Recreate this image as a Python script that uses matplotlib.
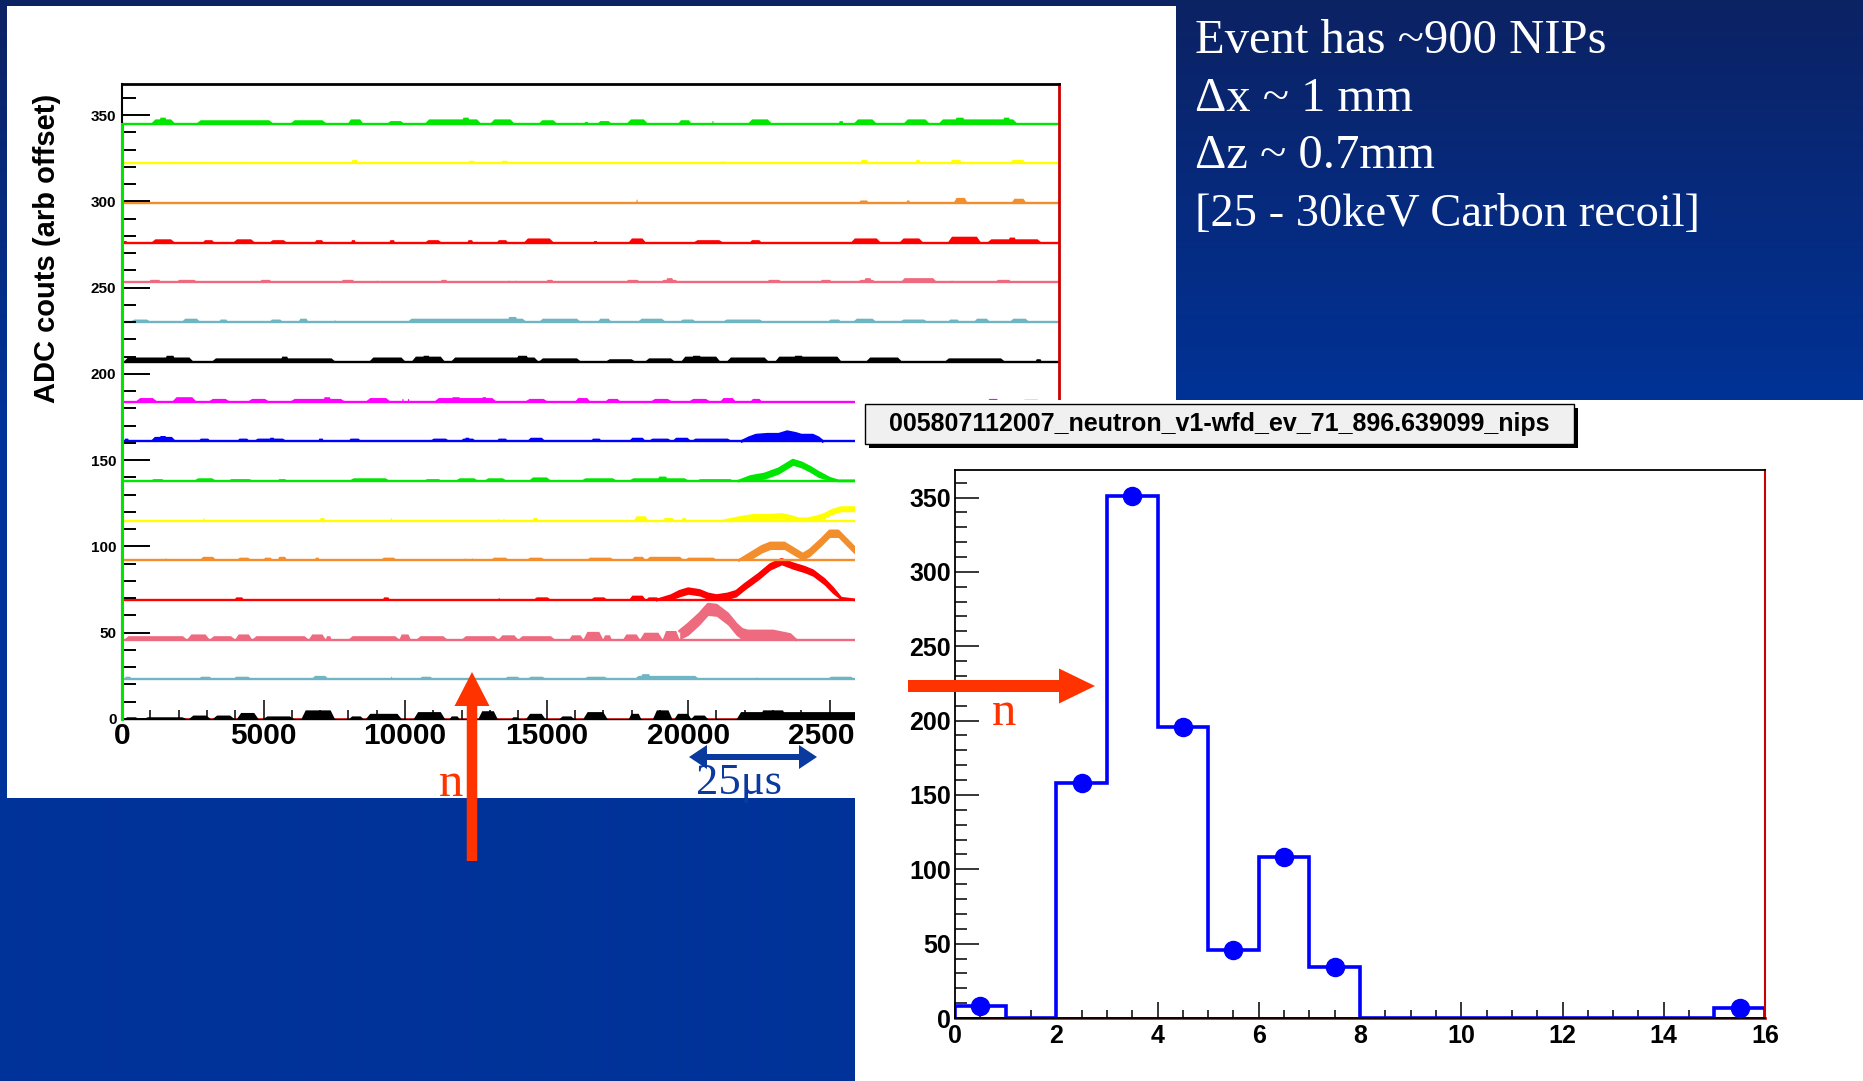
import numpy as np
import matplotlib
matplotlib.use("Agg")
import matplotlib.pyplot as plt
from matplotlib.patches import Rectangle, FancyArrow
from matplotlib.ticker import MultipleLocator

W, H = 1863, 1081
DPI = 100

# ---------------- waveform display: 16 ADC channels with arbitrary offsets ----------------
XMAX = 33100
sample_ticks = [0, 5000, 10000, 15000, 20000, 25000, 30000]
sample_tick_labels = ["0", "5000", "10000", "15000", "20000", "25000", ""]
trace_offsets = [0, 23, 46, 69, 92, 115, 138, 161, 184, 207, 230, 253, 276, 299, 322, 345]
trace_colors = ["#000000", "#6fb6c2", "#ee6a7f", "#ff0000", "#f28e2b", "#ffff00", "#00e600", "#0000ff",
                "#ff00ff", "#000000", "#6fb6c2", "#ee6a7f", "#ff0000", "#f28e2b", "#ffff00", "#00e600"]

# noise bumps per channel: (start sample, end sample, height in ADC counts)
bumps_000 = [(80, 590, 1), (760, 2280, 1), (2370, 3130, 2), (3210, 3970, 2), (4060, 4820, 3.5),
             (4990, 6080, 1.5), (6340, 7520, 5), (8030, 8530, 1.5), (8620, 9880, 3), (10310, 11410, 4),
             (11580, 11920, 1.5), (12590, 13270, 4.5), (13770, 14030, 1), (14280, 14960, 3),
             (15460, 15970, 1.5), (16300, 17150, 4), (17910, 18340, 3), (18760, 19440, 5),
             (19520, 20110, 3), (20110, 20700, 2), (21720, 26100, 4), (22500, 23500, 5)]
bumps_023 = [(80, 340, 1.5), (2700, 3200, 1.5), (3900, 4600, 1.5), (6700, 7300, 2), (9500, 9550, 1.5),
             (10500, 11000, 1.5), (13500, 14100, 1.5), (14300, 15000, 1.5), (16300, 17200, 1.5),
             (18100, 20400, 2), (18300, 18700, 3), (22400, 22450, 1), (24900, 25900, 1.5)]
bumps_046 = [(80, 2300, 2), (2300, 3100, 3), (3100, 4000, 2), (4000, 4600, 3), (4600, 6600, 2),
             (6600, 7200, 3), (7200, 7400, 2), (8000, 9800, 2), (9800, 10200, 3), (10400, 11500, 2),
             (12000, 13300, 2), (13300, 14000, 2.5), (14000, 15300, 2), (15800, 16300, 2.5),
             (16300, 17000, 4.5), (17000, 17300, 2.5), (17700, 18300, 3), (18300, 19100, 4),
             (19100, 19700, 5)]
bumps_069 = [(3970, 4310, 1.5), (9210, 9460, 1.5), (13300, 13350, 1), (14530, 15160, 1.5),
             (16560, 17150, 1.5), (17910, 18510, 2.5), (18510, 19000, 1.5)]
bumps_092 = [(1520, 1570, 1), (2750, 3330, 2), (4060, 4560, 1.5), (4990, 5320, 1.5), (5490, 5830, 2),
             (6810, 6980, 1.5), (9130, 9720, 1.5), (12100, 12150, 1), (12350, 12400, 1),
             (13010, 13690, 1.5), (14280, 14960, 1.5), (16390, 17410, 1.5), (18000, 18500, 2),
             (18500, 19860, 2), (19860, 21040, 1.5)]
bumps_115 = [(2870, 2920, 1.5), (6980, 7180, 1.5), (9490, 9540, 1.5), (13270, 13320, 1),
             (13470, 13520, 1), (14500, 14700, 1.5), (18080, 18590, 2.5), (19100, 19520, 1.5),
             (19770, 19940, 1.5)]
bumps_138 = [(1010, 1520, 1), (2540, 3330, 1.5), (3720, 4650, 1), (5490, 5830, 1), (8030, 9460, 1.5),
             (10650, 11320, 1), (11780, 12590, 1.5), (12790, 13600, 1.5), (14370, 15160, 2),
             (16220, 17490, 1.5), (17910, 20030, 1.5), (18900, 19300, 2.5), (20280, 21630, 1)]
bumps_161 = [(80, 250, 1.5), (1010, 1910, 2.5), (1300, 1600, 3), (2700, 3130, 1.5), (4060, 4510, 1.5),
             (4650, 5830, 1.5), (5200, 5400, 2), (6930, 7130, 1.5), (7990, 8450, 1.5),
             (10870, 11580, 1.5), (11950, 12510, 1.5), (12100, 12300, 2), (13230, 13640, 1.5),
             (14310, 14960, 2), (16560, 16950, 1.5), (17910, 18510, 2), (18590, 19440, 1.5),
             (19440, 20110, 2), (20110, 21550, 1.5)]
bumps_184 = [(490, 1240, 2), (1780, 2630, 2.5), (3060, 3810, 1.5), (4450, 5200, 1.5), (5950, 7880, 1.5),
             (7100, 7400, 2.5), (8620, 9480, 2), (9900, 9950, 1.5), (10100, 10150, 1.5),
             (11040, 13230, 2), (11600, 12000, 2.5), (12700, 12900, 2.5), (14250, 15040, 1.5),
             (16010, 16540, 2), (17080, 17610, 1.5), (18680, 19430, 1.5), (20030, 20780, 1.5),
             (21140, 21680, 2), (22210, 22600, 1.5), (30560, 30990, 1.5), (31740, 32490, 1)]
bumps_207 = [(60, 2530, 2.5), (1500, 1900, 3.5), (3170, 7550, 2), (5600, 5900, 3), (8730, 10020, 2.5),
             (10230, 11410, 3), (10600, 10900, 3.5), (11620, 14720, 2.5), (13900, 14400, 3.5),
             (14720, 16220, 2), (17080, 18150, 1.5), (18470, 19540, 2), (19750, 21140, 3),
             (20100, 20500, 3.5), (21360, 22850, 2.5), (23070, 25420, 3), (23700, 24100, 3.5),
             (26280, 27560, 2.5), (29060, 31200, 2), (32270, 32490, 1.5)]
bumps_230 = [(280, 1030, 1.5), (2100, 2780, 2), (3420, 3750, 1.5), (5200, 5690, 1.5), (6230, 6590, 2),
             (7500, 7550, 1), (10080, 14300, 2), (13600, 14000, 3), (14720, 16220, 2), (16800, 17290, 2),
             (18210, 19220, 2), (19690, 20290, 1.5), (21210, 22680, 1.5), (24930, 25420, 1.5),
             (25810, 26660, 2), (27460, 28480, 1.5), (29170, 29600, 1.5), (30090, 30670, 2),
             (31350, 32060, 2)]
bumps_253 = [(920, 1410, 1.5), (1880, 2700, 1.5), (4840, 5310, 1.5), (7700, 8260, 1.5), (9000, 9050, 1),
             (11240, 11510, 1.5), (13650, 13700, 1), (13900, 13950, 1), (14980, 15260, 1.5),
             (17780, 18320, 1.5), (19000, 19690, 1.5), (19200, 19500, 2.5), (22750, 23330, 1.5),
             (24630, 25100, 1.5), (25960, 26660, 1.5), (26200, 26500, 2.5), (27500, 28800, 2.5),
             (29300, 29350, 1), (30820, 31460, 1.5)]
bumps_276 = [(0, 200, 1), (1030, 1880, 2), (2850, 3270, 1.5), (3920, 4710, 2), (5200, 5840, 1.5),
             (6800, 7130, 1.5), (8090, 8260, 1.5), (9440, 9650, 1.5), (10700, 11300, 1.5),
             (12200, 12410, 1.5), (13230, 13650, 1.5), (14190, 15260, 2.5), (16650, 16800, 1),
             (17890, 18510, 2.5), (20180, 21250, 1.5), (22170, 22600, 1.5), (25740, 26810, 2.5),
             (27460, 28310, 2.5), (29170, 30350, 3.5), (30560, 32490, 2), (31300, 31600, 3)]
bumps_299 = [(18170, 18220, 2), (26020, 26390, 1.5), (27710, 27840, 1.5), (29380, 29870, 3),
             (31420, 31950, 2.5)]
bumps_322 = [(1650, 1700, 1), (3000, 3050, 1), (4280, 4330, 1), (8090, 8350, 2), (12220, 12480, 1.5),
             (13380, 13650, 1.5), (21080, 21360, 1), (26070, 26390, 2), (28030, 28210, 2),
             (29230, 29700, 2), (31350, 31950, 2)]
bumps_345 = [(1030, 1880, 2.5), (1300, 1600, 3.5), (2630, 5350, 2), (5950, 7230, 2), (7980, 8520, 2.5),
             (9370, 9970, 1.5), (10700, 12690, 2.5), (12000, 12300, 3.5), (13010, 13870, 2.5),
             (14720, 15370, 2), (16330, 16480, 1), (16800, 17290, 1.5), (17830, 18580, 2.5),
             (19650, 20120, 2), (20850, 20900, 1.5), (22110, 22960, 2.5), (25320, 25490, 1.5),
             (25850, 26660, 2.5), (27610, 28530, 2.5), (28850, 31630, 2.5), (29400, 29800, 3.5),
             (31100, 31400, 3.5)]

# charge pulses: (sample, ADC counts above the channel offset)
pulse_046 = [(19700, 5), (20000, 9), (20400, 15), (20700, 20.5), (21000, 20), (21400, 15), (21700, 9),
             (21900, 6), (22100, 5), (23000, 5), (23300, 4), (23600, 3), (23800, 0)]
pulse_069 = [(18900, 0), (19400, 2.5), (19700, 5), (20000, 6.5), (20400, 5.5), (20700, 3.5),
             (21000, 2.5), (21400, 3.5), (21700, 5), (22000, 9), (22500, 15), (22900, 20.5),
             (23300, 23.5), (23700, 21), (24100, 19), (24400, 17), (24800, 12), (25100, 7),
             (25400, 1), (25900, 0)]
pulse_092 = [(21800, 0), (22200, 4), (22600, 8), (22900, 10), (23400, 10), (23800, 6), (24050, 3.5),
             (24300, 6), (24700, 12), (25000, 17), (25300, 17), (25600, 12), (25900, 7)]
pulse_115 = [(21300, 0), (21600, 1), (21900, 2), (22300, 3), (22800, 3), (23300, 3.5), (23600, 2.5),
             (23900, 1), (24200, 1), (24500, 2), (24800, 3.5), (25100, 6), (25400, 7.5), (25900, 7.5)]
pulse_138 = [(21800, 0), (22200, 2.5), (22700, 4), (23200, 7), (23500, 10), (23700, 12), (24000, 10.5),
             (24300, 8), (24600, 5), (25000, 1.5), (25300, 0), (26000, 0)]
pulse_161 = [(21900, 0), (22150, 2), (22400, 3.5), (22800, 4), (23200, 4), (23500, 5.5), (23800, 4.5),
             (24000, 3.5), (24400, 3.5), (24600, 2), (24750, 0)]

trace_bumps = [bumps_000, bumps_023, bumps_046, bumps_069, bumps_092, bumps_115, bumps_138, bumps_161,
               bumps_184, bumps_207, bumps_230, bumps_253, bumps_276, bumps_299, bumps_322, bumps_345]
trace_pulses = {46: pulse_046, 69: pulse_069, 92: pulse_092, 115: pulse_115, 138: pulse_138, 161: pulse_161}
pulse_band = {46: 6.5, 69: 3.2, 92: 3.8, 115: 2.4, 138: 3.0, 161: None}

# ---------------- NIP count histogram ----------------
nip_edges = list(range(0, 17))
nip_counts = [8, 0, 158, 351, 196, 46, 108, 34, 0, 0, 0, 0, 0, 0, 0, 7]
hist_title = "005807112007_neutron_v1-wfd_ev_71_896.639099_nips"

notes = ["Event has ~900 NIPs", "\u0394x ~ 1 mm", "\u0394z ~ 0.7mm", "[25 - 30keV Carbon recoil]"]
note_sizes = [35, 35, 35, 33.5]

SANS = ["Liberation Sans", "DejaVu Sans"]
SERIF = ["Liberation Serif", "DejaVu Serif"]


def fig_rect(x0, y0, x1, y1):
    return [x0 / W, 1 - y1 / H, (x1 - x0) / W, (y1 - y0) / H]


fig = plt.figure(figsize=(W / DPI, H / DPI), dpi=DPI)

# slide background: navy gradient fading into the flat blue
ax_bg = fig.add_axes([0, 0, 1, 1], zorder=0)
rows = np.arange(H)
t = np.clip(rows / 420.0, 0, 1)[:, None]
top_c = np.array([12, 34, 99]) / 255.0
bot_c = np.array([0, 51, 153]) / 255.0
grad = (top_c * (1 - t) + bot_c * t)[:, None, :]
ax_bg.imshow(grad, aspect="auto", extent=[0, W, H, 0], interpolation="bilinear")
ax_bg.set_xlim(0, W)
ax_bg.set_ylim(H, 0)
ax_bg.axis("off")

# white canvas behind the waveform display
fig.add_artist(Rectangle((7 / W, 1 - 798 / H), (1176 - 7) / W, (798 - 6) / H,
                         transform=fig.transFigure, facecolor="white", edgecolor="none", zorder=1))

# ---------------- waveform axes ----------------
ax = fig.add_axes(fig_rect(122, 84, 1059, 719), zorder=2)
ax.set_facecolor("white")
ax.set_xlim(0, XMAX)
ax.set_ylim(0, 368)


def draw_bumps(axis, base, bumps, color):
    for x0, x1, h in bumps:
        r = min(150.0, 0.2 * (x1 - x0))
        axis.fill([x0, x0 + r, x1 - r, x1], [base, base + h, base + h, base],
                  color=color, lw=0, zorder=1.2)


for off, col, bumps in zip(trace_offsets, trace_colors, trace_bumps):
    if off == 0:
        ax.plot([0, XMAX], [0, 0], color="#ff0000", lw=1.8, zorder=1.1)
    else:
        ax.plot([0, XMAX], [off, off], color=col, lw=1.7, zorder=1.3, solid_capstyle="butt")
    draw_bumps(ax, off, bumps, col)
    if off in trace_pulses:
        px = np.array([p[0] for p in trace_pulses[off]], dtype=float)
        py = off + np.array([p[1] for p in trace_pulses[off]], dtype=float)
        band = pulse_band[off]
        lower = np.full_like(py, off) if band is None else np.maximum(off, py - band)
        ax.fill_between(px, lower, py, color=col, lw=0, zorder=1.25)
        ax.plot(px, py, color=col, lw=2.0, zorder=1.3)

ax.plot([0, 0], [0, 345], color="#00e600", lw=2.2, zorder=3, clip_on=False)

ax.set_xticks(sample_ticks, sample_tick_labels)
ax.xaxis.set_minor_locator(MultipleLocator(1000))
ax.yaxis.set_major_locator(MultipleLocator(50))
ax.yaxis.set_minor_locator(MultipleLocator(10))
ax.tick_params(axis="x", which="major", direction="in", length=13.7, width=1.1, pad=2,
               top=False, labelsize=21.5)
ax.tick_params(axis="x", which="minor", direction="in", length=6.8, width=1.1, top=False)
ax.tick_params(axis="y", which="major", direction="in", length=20, width=1.4, pad=4,
               right=False, labelsize=11)
ax.tick_params(axis="y", which="minor", direction="in", length=10, width=1.4, right=False)
for lab in ax.get_xticklabels() + ax.get_yticklabels():
    lab.set_fontfamily(SANS)
    lab.set_fontweight("bold")
ax.spines["top"].set_linewidth(2.0)
ax.spines["left"].set_linewidth(1.5)
ax.spines["bottom"].set_linewidth(1.0)
ax.spines["right"].set_color("#cc0000")
ax.spines["right"].set_linewidth(2.0)

fig.text(47 / W, 1 - 248 / H, "ADC couts (arb offset)", rotation=90, ha="center", va="center",
         fontsize=21, fontweight="bold", family=SANS, color="black", zorder=2)

# ---------------- NIP histogram panel ----------------
fig.add_artist(Rectangle((855 / W, 0), (W - 855) / W, 1 - 400 / H,
                         transform=fig.transFigure, facecolor="white", edgecolor="none", zorder=4))

axh = fig.add_axes(fig_rect(955, 470, 1765, 1018), zorder=5)
axh.set_facecolor("white")
axh.set_xlim(0, 16)
axh.set_ylim(0, 368.5)
axh.plot([0, 16], [0, 0], color="#ff0000", lw=2.0, zorder=1.5, clip_on=False)
axh.stairs(nip_counts, nip_edges, color="#0000ff", lw=2.6, zorder=2)
centers = np.array(nip_edges[:-1]) + 0.5
counts = np.array(nip_counts)
nz = counts > 0
axh.plot(centers[nz], counts[nz], "o", color="#0000ff", ms=13, zorder=3)

axh.xaxis.set_major_locator(MultipleLocator(2))
axh.xaxis.set_minor_locator(MultipleLocator(0.5))
axh.yaxis.set_major_locator(MultipleLocator(50))
axh.yaxis.set_minor_locator(MultipleLocator(10))
axh.tick_params(axis="x", which="major", direction="in", length=11.5, width=1.1, pad=4,
                top=False, labelsize=18)
axh.tick_params(axis="x", which="minor", direction="in", length=5.8, width=1.1, top=False)
axh.tick_params(axis="y", which="major", direction="in", length=17.3, width=1.1, pad=3,
                right=False, labelsize=18)
axh.tick_params(axis="y", which="minor", direction="in", length=8.6, width=1.1, right=False)
for lab in axh.get_xticklabels() + axh.get_yticklabels():
    lab.set_fontfamily(SANS)
    lab.set_fontweight("bold")
for s in ("top", "left", "bottom"):
    axh.spines[s].set_linewidth(1.3)
axh.spines["right"].set_color("#cc0000")
axh.spines["right"].set_linewidth(1.5)

# histogram title pave with its shadow
fig.add_artist(Rectangle((869 / W, 1 - 448 / H), 709 / W, 40 / H, transform=fig.transFigure,
                         facecolor="black", edgecolor="none", zorder=6))
fig.add_artist(Rectangle((865 / W, 1 - 444 / H), 709 / W, 40 / H, transform=fig.transFigure,
                         facecolor="#f0f0f0", edgecolor="black", lw=1.0, zorder=6.1))
fig.text(1219 / W, 1 - 424 / H, hist_title, ha="center", va="center", fontsize=18,
         fontweight="bold", family=SANS, color="black", zorder=6.2)

# ---------------- annotations in slide pixel coordinates ----------------
ax_o = fig.add_axes([0, 0, 1, 1], zorder=8)
ax_o.set_xlim(0, W)
ax_o.set_ylim(H, 0)
ax_o.axis("off")
ax_o.patch.set_visible(False)

n_red = "#ff3300"
ax_o.add_patch(FancyArrow(472, 861, 0, -(861 - 672), width=10.5, head_width=35, head_length=34,
                          length_includes_head=True, color=n_red, lw=0))
ax_o.text(451, 784, "n", ha="center", va="center", fontsize=35, family=SERIF, color=n_red)

ax_o.add_patch(FancyArrow(908, 686, 1095 - 908, 0, width=12, head_width=35, head_length=36,
                          length_includes_head=True, color=n_red, lw=0))
ax_o.text(1004, 713, "n", ha="center", va="center", fontsize=35, family=SERIF, color=n_red)

dark_blue = "#0b3a9e"
for d in (64, -64):
    ax_o.add_patch(FancyArrow(753, 757, d, 0, width=6, head_width=24, head_length=18,
                              length_includes_head=True, color=dark_blue, lw=0))
ax_o.text(739, 794, "25\u03bcs", ha="center", va="baseline", fontsize=32, family=SERIF,
          color=dark_blue)

for i, (line, fs) in enumerate(zip(notes, note_sizes)):
    ax_o.text(1195, 53 + 57.7 * i, line, ha="left", va="baseline", fontsize=fs,
              family=SERIF, color="white")

fig.savefig("out.png", dpi=DPI)
